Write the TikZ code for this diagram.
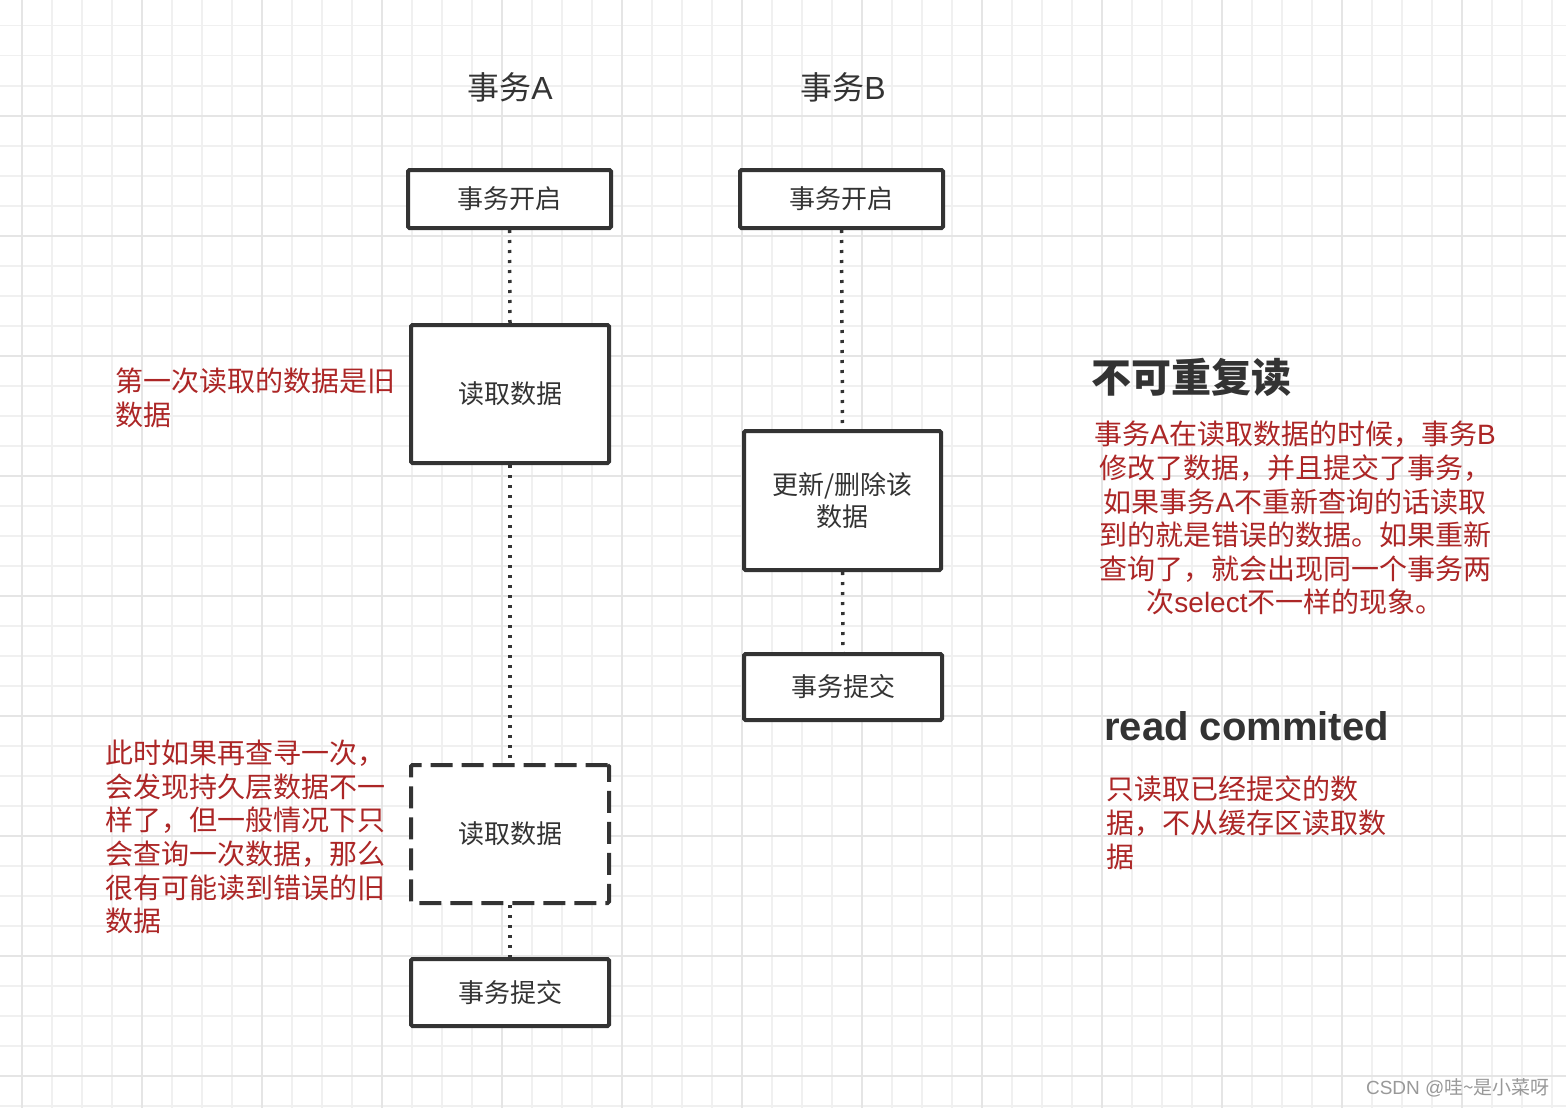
\documentclass[tikz,border=0pt]{standalone}
\usepackage{fontspec}
\setmainfont{Noto Sans CJK SC}
\newfontfamily\latinfont{Liberation Sans}
\definecolor{boxline}{HTML}{333333}
\definecolor{textdark}{HTML}{333333}
\definecolor{notered}{RGB}{172,38,38}
\definecolor{gridminor}{HTML}{F0F0F0}
\definecolor{gridmajor}{HTML}{E5E5E5}
\definecolor{wmgray}{HTML}{999999}
\newcommand{\lat}[1]{{\latinfont #1}}
\begin{document}
\begin{tikzpicture}[x=1pt,y=-1pt,
  box/.style={draw=boxline, line width=4pt, rounded corners=1.5pt, fill=white,
    text=textdark, font=\fontsize{26}{32}\selectfont, inner sep=0pt, align=center},
  dashbox/.style={box, dash pattern=on 22pt off 9pt},
  dotline/.style={draw=boxline, line width=3.5pt, dash pattern=on 3pt off 7pt},
  title/.style={text=textdark, font=\fontsize{32}{38}\selectfont, inner sep=0pt},
  note/.style={text=notered, font=\fontsize{28}{33.6}\selectfont, inner sep=0pt},
  heading/.style={text=textdark, font=\bfseries\fontsize{40}{46}\selectfont, inner sep=0pt},
  minorline/.style={draw=gridminor, line width=1.6pt},
  majorline/.style={draw=gridmajor, line width=2pt}]
\useasboundingbox (0,0) rectangle (1566,1108);
\fill[white] (0,0) rectangle (1566,1108);
% grid
\foreach \x in {21.7,51.7,...,1566} \draw[minorline] (\x,0) -- (\x,1108);
\foreach \y in {-4.3,25.7,...,1108} \draw[minorline] (0,\y) -- (1566,\y);
\foreach \x in {21.7,141.7,...,1566} \draw[majorline] (\x,0) -- (\x,1108);
\foreach \y in {115.7,235.7,...,1108} \draw[majorline] (0,\y) -- (1566,\y);

% titles
\node[title] (ta) at (510,87.5) {事务\lat{A}};
\node[title] (tb) at (843,87.5) {事务\lat{B}};

% transaction A
\node[box, minimum width=203pt, minimum height=58pt] (a1) at (509.5,199) {事务开启};
\node[box, minimum width=198pt, minimum height=138pt] (a2) at (510,394) {读取数据};
\node[dashbox, minimum width=198pt, minimum height=138pt] (a3) at (510,834) {读取数据};
\node[box, minimum width=198pt, minimum height=67pt] (a4) at (510,992.5) {事务提交};

% transaction B
\node[box, minimum width=203pt, minimum height=58pt] (b1) at (841.5,199) {事务开启};
\node[box, minimum width=197pt, minimum height=139pt] (b2) at (842.5,500.5) {更新/删除该\\数据};
\node[box, minimum width=198pt, minimum height=66pt] (b3) at (843,687) {事务提交};

% connectors
\draw[dotline] (a1.south) -- (a2.north);
\draw[dotline] (a2.south) -- (a3.north);
\draw[dotline] (a3.south) -- (a4.north);
\draw[dotline] (b1.south) -- (b2.north);
\draw[dotline] (b2.south) -- (b3.north);

% left notes
\node[note, anchor=north west, align=left] (n1) at (115,368) {第一次读取的数据是旧\\数据};
\node[note, anchor=north west, align=left] (n2) at (105,740) {此时如果再查寻一次，\\会发现持久层数据不一\\样了，但一般情况下只\\会查询一次数据，那么\\很有可能读到错误的旧\\数据};

% right side
\node[heading, anchor=west] (h1) at (1091,377) {不可重复读};
\node[note, anchor=north, align=center] (n3) at (1295,421) {事务\lat{A}在读取数据的时候，事务\lat{B}\\修改了数据，并且提交了事务，\\如果事务\lat{A}不重新查询的话读取\\到的就是错误的数据。如果重新\\查询了，就会出现同一个事务两\\次\lat{select}不一样的现象。};
\node[text=textdark, font=\latinfont\bfseries\fontsize{40}{46}\selectfont, inner sep=0pt, anchor=base west] (h2) at (1104,740) {read commited};
\node[note, anchor=north west, align=left] (n4) at (1106,776) {只读取已经提交的数\\据，不从缓存区读取数\\据};

% watermark
\node[text=wmgray, font=\fontsize{19}{23}\selectfont, inner sep=0pt] (wm) at (1458,1088) {\lat{CSDN @}哇\textasciitilde 是小菜呀};
\end{tikzpicture}
\end{document}
